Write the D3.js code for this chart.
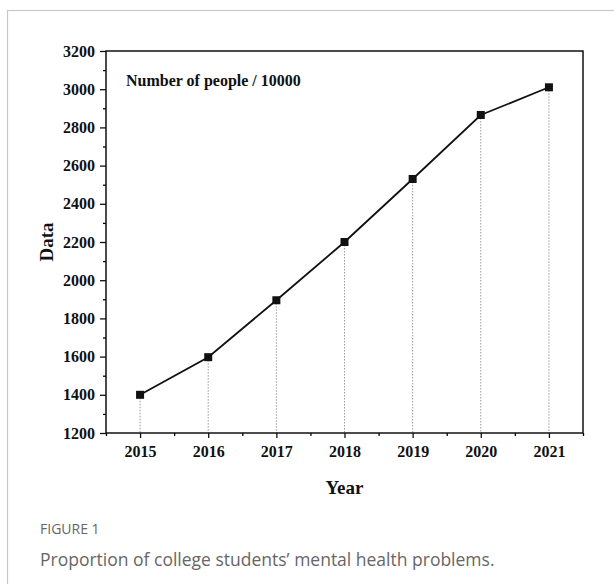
<!DOCTYPE html>
<html>
<head>
<meta charset="utf-8">
<script src="https://cdn.jsdelivr.net/npm/d3@7"></script>
<style>
  body { margin: 0; background: #fff; }
  svg { display: block; }
  .tick text { font-family: "Liberation Serif", "Times New Roman", serif; font-weight: bold; font-size: 16px; fill: #111; }
</style>
</head>
<body>
<svg width="614" height="584"></svg>
<script>
const years = [2015, 2016, 2017, 2018, 2019, 2020, 2021];
const values = [1400, 1597, 1895, 2200, 2530, 2865, 3010];
const yTicks = [1200, 1400, 1600, 1800, 2000, 2200, 2400, 2600, 2800, 3000, 3200];

const margin = { top: 51, right: 31, bottom: 151, left: 106 };
const width = 614 - margin.left - margin.right;
const height = 584 - margin.top - margin.bottom;

const root = d3.select("svg");

// card frame
root.append("rect")
    .attr("x", 7.5)
    .attr("y", 10.5)
    .attr("width", 700)
    .attr("height", 700)
    .attr("fill", "none")
    .attr("stroke", "#c8c8c8")
    .attr("stroke-width", 1.2);

const svg = root.append("g")
    .attr("transform", "translate(" + margin.left + "," + margin.top + ")");

const xScale = d3.scaleLinear().domain([2014.5, 2021.5]).range([0, width]);
const yScale = d3.scaleLinear().domain([1200, 3200]).range([height, 0]);

// drop lines
svg.selectAll(".drop")
    .data(years)
    .enter().append("line")
    .attr("class", "drop")
    .attr("x1", d => xScale(d))
    .attr("x2", d => xScale(d))
    .attr("y1", (d, i) => yScale(values[i]))
    .attr("y2", height)
    .attr("stroke", "#999")
    .attr("stroke-width", 1)
    .attr("stroke-dasharray", "1.5,1.5");

// minor ticks
const xMinor = d3.range(2014.5, 2021.6, 1);
const yMinor = d3.range(1300, 3200, 200);

svg.append("g")
    .attr("transform", "translate(0," + height + ")")
    .call(d3.axisBottom(xScale).tickValues(xMinor).tickSize(3).tickFormat(""))
    .call(g => g.select(".domain").remove())
    .selectAll("line").attr("stroke-width", 1.3);

svg.append("g")
    .call(d3.axisLeft(yScale).tickValues(yMinor).tickSize(3).tickFormat(""))
    .call(g => g.select(".domain").remove())
    .selectAll("line").attr("stroke-width", 1.3);

// major axes
const xAxis = svg.append("g")
    .attr("transform", "translate(0," + height + ")")
    .call(d3.axisBottom(xScale).tickValues(years).tickSize(5).tickPadding(8).tickFormat(d3.format("d")));

const yAxis = svg.append("g")
    .call(d3.axisLeft(yScale).tickValues(yTicks).tickSize(6).tickPadding(5).tickFormat(d3.format("d")));

[xAxis, yAxis].forEach(g => {
    g.select(".domain").remove();
    g.selectAll("line").attr("stroke", "#111").attr("stroke-width", 1.3);
});

// frame
svg.append("rect")
    .attr("width", width)
    .attr("height", height)
    .attr("fill", "none")
    .attr("stroke", "#111")
    .attr("stroke-width", 1.5);

// series line
const line = d3.line()
    .x(d => xScale(d))
    .y((d, i) => yScale(values[i]));

svg.append("path")
    .datum(years)
    .attr("d", line)
    .attr("fill", "none")
    .attr("stroke", "#111")
    .attr("stroke-width", 1.8);

svg.selectAll(".pt")
    .data(years)
    .enter().append("rect")
    .attr("class", "pt")
    .attr("x", d => xScale(d) - 4)
    .attr("y", (d, i) => yScale(values[i]) - 4)
    .attr("width", 8)
    .attr("height", 8)
    .attr("fill", "#111");

// labels
svg.append("text")
    .attr("x", 20)
    .attr("y", 35)
    .attr("font-family", "Liberation Serif, Times New Roman, serif")
    .attr("font-weight", "bold")
    .attr("font-size", "16px")
    .attr("fill", "#111")
    .text("Number of people / 10000");

svg.append("text")
    .attr("text-anchor", "middle")
    .attr("x", width / 2)
    .attr("y", height + 61)
    .attr("font-family", "Liberation Serif, Times New Roman, serif")
    .attr("font-weight", "bold")
    .attr("font-size", "19px")
    .attr("fill", "#111")
    .text("Year");

svg.append("text")
    .attr("text-anchor", "middle")
    .attr("transform", "translate(-53," + (height / 2) + ") rotate(-90)")
    .attr("font-family", "Liberation Serif, Times New Roman, serif")
    .attr("font-weight", "bold")
    .attr("font-size", "19px")
    .attr("fill", "#111")
    .text("Data");

// caption
root.append("text")
    .attr("x", 40)
    .attr("y", 534)
    .attr("font-family", "Open Sans, Noto Sans, sans-serif")
    .attr("font-size", "14px")
    .attr("fill", "#666")
    .text("FIGURE 1");

root.append("text")
    .attr("x", 40)
    .attr("y", 566)
    .attr("font-family", "Open Sans, Noto Sans, sans-serif")
    .attr("font-size", "17.5px")
    .attr("fill", "#666")
    .text("Proportion of college students’ mental health problems.");
</script>
</body>
</html>
